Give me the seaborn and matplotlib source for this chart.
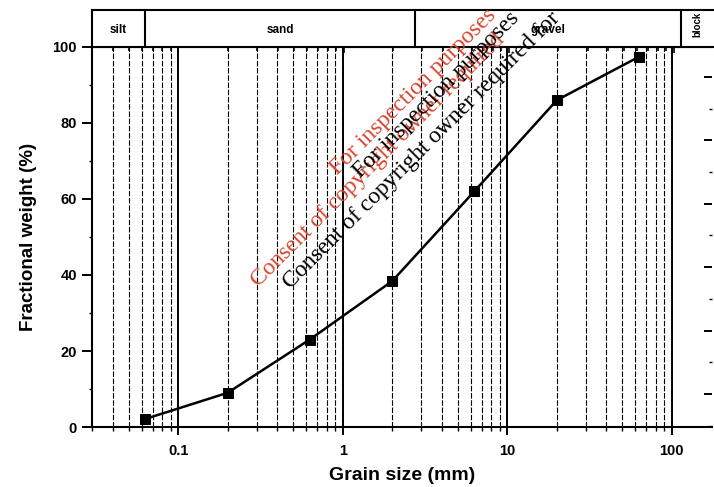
import numpy as np
import pandas as pd
import matplotlib
matplotlib.use("Agg")
import matplotlib.pyplot as plt
import matplotlib.ticker as mticker
import seaborn as sns

# data
grain_size = [0.063, 0.2, 0.63, 2.0, 6.3, 20.0, 63.0]
fraction = [2.1, 9.0, 23.0, 38.4, 62.0, 86.0, 97.4]

zone_names = ["silt", "sand", "gravel", "block"]
zone_edges = [0.03, 0.063, 2.7, 110.0, 175.0]

xtick_vals = [0.1, 1, 10, 100]
xtick_labels = ["0.1", "1", "10", "100"]
ytick_vals = [0, 20, 40, 60, 80, 100]

sns.set_style("ticks")
plt.rcParams["font.family"] = ["Liberation Sans", "DejaVu Sans"]
plt.rcParams["font.weight"] = "bold"
plt.rcParams["text.color"] = "black"
plt.rcParams["axes.labelcolor"] = "black"
plt.rcParams["xtick.color"] = "black"
plt.rcParams["ytick.color"] = "black"

df = pd.DataFrame({"size": grain_size, "frac": fraction})

fig = plt.figure(figsize=(7.14, 4.87), dpi=100)
ax = fig.add_axes([0.1289, 0.1232, 0.8711, 0.7803])

ax.set_xscale("log")
ax.set_xlim(zone_edges[0], zone_edges[-1])
ax.set_ylim(0, 100)

# vertical grid: solid decades, dashed sub-divisions up to 100
ax.xaxis.set_minor_locator(mticker.LogLocator(base=10, subs=np.arange(2, 10)))
ax.grid(False)
for v in xtick_vals:
    ax.axvline(v, color="k", lw=1.4, zorder=1)
for dec in [0.01, 0.1, 1, 10]:
    for m in range(2, 10):
        v = dec * m
        if zone_edges[0] < v < 100:
            ax.axvline(v, color="k", lw=0.8, ls=(0, (5, 1.5)), zorder=1)

sns.lineplot(data=df, x="size", y="frac", ax=ax, color="black", lw=1.8,
             marker="s", markersize=7, markeredgecolor="black", zorder=3)

ax.set_xticks(xtick_vals)
ax.set_xticklabels(xtick_labels, fontsize=10.5, fontweight="bold")
ax.set_yticks(ytick_vals)
ax.set_yticklabels([str(v) for v in ytick_vals], fontsize=10.5, fontweight="bold")
ax.yaxis.set_minor_locator(mticker.MultipleLocator(10))
ax.tick_params(axis="x", which="major", direction="out", length=6, width=1.4, pad=6)
ax.tick_params(axis="x", which="minor", direction="out", length=3, width=1.0)
ax.tick_params(axis="y", which="major", direction="out", length=7, width=1.4, pad=4)
ax.tick_params(axis="y", which="minor", direction="out", length=2, width=1.0)

ax.set_xlabel("Grain size (mm)", fontsize=14, fontweight="bold", labelpad=7)
ax.set_ylabel("Fractional weight (%)", fontsize=13.5, fontweight="bold", labelpad=11)
for s in ax.spines.values():
    s.set_linewidth(1.5)
    s.set_color("black")
ax.spines["right"].set_visible(False)

# right-hand inward ticks (offset scale in the scan)
ax_r = ax.twinx()
ax_r.set_position([0.1289, 0.1232, 0.8681, 0.7803])
ax_r.set_ylim(0.48, 6.47)
ax_r.set_yticks([1, 2, 3, 4, 5, 6])
ax_r.yaxis.set_minor_locator(mticker.MultipleLocator(0.5))
ax_r.tick_params(axis="y", which="major", direction="in", length=6, width=1.4, labelright=False)
ax_r.tick_params(axis="y", which="minor", direction="in", length=2, width=1.0)
for s in ax_r.spines.values():
    s.set_visible(False)

# classification band on top
band = fig.add_axes([0.1289, 0.9035, 0.8711, 0.076])
band.set_xscale("log")
band.set_xlim(zone_edges[0], zone_edges[-1])
band.set_ylim(0, 1)
band.set_yticks([])
band.set_xticks(xtick_vals)
band.set_xticklabels([])
band.xaxis.set_minor_locator(mticker.LogLocator(base=10, subs=np.arange(2, 10)))
band.xaxis.set_minor_formatter(mticker.NullFormatter())
band.tick_params(axis="x", which="major", direction="out", length=4, width=1.2)
band.tick_params(axis="x", which="minor", direction="out", length=3, width=1.2)
for s in band.spines.values():
    s.set_linewidth(1.5)
    s.set_color("black")
band.spines["right"].set_visible(False)
for e in zone_edges[1:-1]:
    band.axvline(e, color="k", lw=1.5)
for i, name in enumerate(zone_names):
    xc = np.sqrt(zone_edges[i] * zone_edges[i + 1])
    if name == "block":
        band.text(xc, 0.62, name, rotation=90, ha="center", va="center",
                  fontsize=7, fontweight="bold")
    else:
        band.text(xc, 0.45, name, ha="center", va="center",
                  fontsize=8.5, fontweight="bold")

# scan watermark (only the part that shows inside the picture)
wm = ["Liberation Serif", "DejaVu Serif"]
red = "#d9452f"
marks = [
    (337, 175, "For inspection purposes", red),
    (258, 287, "Consent of copyright owner required", red),
    (360, 178, "For inspection purposes", "black"),
    (290, 289, "Consent of copyright owner required for", "black"),
]
for px, py, txt, col in marks:
    fig.text(px / 714, 1 - py / 487, txt, color=col, rotation=45,
             rotation_mode="anchor", ha="left", va="baseline", fontsize=17,
             family=wm, fontweight="normal", zorder=10)

fig.savefig("out.png", dpi=100)
